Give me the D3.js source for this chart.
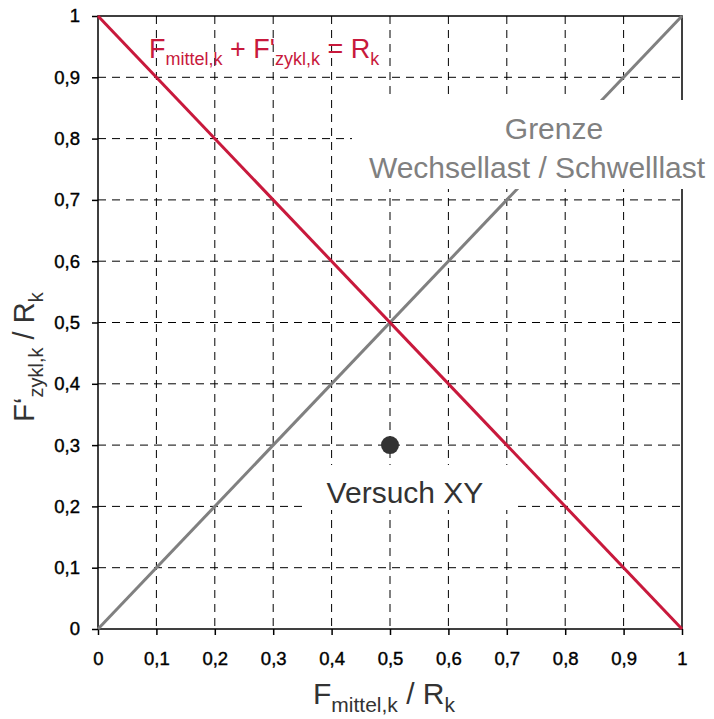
<!DOCTYPE html>
<html>
<head>
<meta charset="utf-8">
<script src="https://cdn.jsdelivr.net/npm/d3@7"></script>
<style>
  html, body { margin: 0; padding: 0; background: #fff; }
  svg { display: block; font-family: "Liberation Sans", Arial, sans-serif; }
</style>
</head>
<body>
<svg id="chart" width="714" height="719"></svg>
<script>
// Ticks for both axes (0 .. 1 in steps of 0.1)
const tickValues = [0, 0.1, 0.2, 0.3, 0.4, 0.5, 0.6, 0.7, 0.8, 0.9, 1];
const tickLabels = ["0", "0,1", "0,2", "0,3", "0,4", "0,5", "0,6", "0,7", "0,8", "0,9", "1"];

// Limit line F_mittel + F'_zykl = R_k
const sumLine = [[0, 1], [1, 0]];
// Boundary between alternating and pulsating load
const limitLine = [[0, 0], [1, 1]];
// Test point
const testPoints = [{ name: "Versuch XY", x: 0.5, y: 0.3 }];

const margin = { top: 16, right: 32, bottom: 90, left: 98 };
const W = 714, H = 719;
const iw = W - margin.left - margin.right;
const ih = H - margin.top - margin.bottom;

const svg = d3.select("#chart");
const g = svg.append("g").attr("transform", `translate(${margin.left},${margin.top})`);

const x = d3.scaleLinear().domain([0, 1]).range([0, iw]);
const y = d3.scaleLinear().domain([0, 1]).range([ih, 0]);

// Dashed grid
g.append("g").selectAll("line").data(tickValues.slice(1, -1)).join("line")
  .attr("x1", d => x(d)).attr("x2", d => x(d)).attr("y1", 0).attr("y2", ih)
  .attr("stroke", "#000").attr("stroke-width", 1).attr("stroke-dasharray", "8,6");
g.append("g").selectAll("line").data(tickValues.slice(1, -1)).join("line")
  .attr("y1", d => y(d)).attr("y2", d => y(d)).attr("x1", 0).attr("x2", iw)
  .attr("stroke", "#000").attr("stroke-width", 1).attr("stroke-dasharray", "8,6");

// Frame
g.append("rect").attr("x", 0).attr("y", 0).attr("width", iw).attr("height", ih)
  .attr("fill", "none").attr("stroke", "#000").attr("stroke-width", 1.5);

// Axes
const fmt = d => tickLabels[tickValues.indexOf(d)];
const xAxis = g.append("g").attr("transform", `translate(0,${ih})`)
  .call(d3.axisBottom(x).tickValues(tickValues).tickFormat(fmt).tickSize(6).tickPadding(17));
const yAxis = g.append("g")
  .call(d3.axisLeft(y).tickValues(tickValues).tickFormat(fmt).tickSize(6).tickPadding(12));
[xAxis, yAxis].forEach(a => {
  a.select(".domain").remove();
  a.selectAll(".tick line").attr("stroke", "#000").attr("stroke-width", 1.5);
  a.selectAll(".tick text").attr("fill", "#000").attr("stroke", "#000").attr("stroke-width", 0.4)
    .style("font-size", "18.5px");
});

const line = d3.line().x(d => x(d[0])).y(d => y(d[1]));

// Grey boundary line
g.append("path").datum(limitLine).attr("d", line)
  .attr("fill", "none").attr("stroke", "#808080").attr("stroke-width", 3);

// Red limit line
g.append("path").datum(sumLine).attr("d", line)
  .attr("fill", "none").attr("stroke", "#c8193c").attr("stroke-width", 3);

// Test point
g.selectAll("circle").data(testPoints).join("circle")
  .attr("cx", d => x(d.x)).attr("cy", d => y(d.y)).attr("r", 9).attr("fill", "#333");

// Label boxes with white background
svg.append("rect").attr("x", 352).attr("y", 100).attr("width", 362).attr("height", 89).attr("fill", "#fff");
svg.append("rect").attr("x", 305).attr("y", 465).attr("width", 213).attr("height", 45).attr("fill", "#fff");

svg.append("text").attr("x", 554).attr("y", 139).attr("text-anchor", "middle")
  .attr("fill", "#808080").style("font-size", "30px").text("Grenze");
svg.append("text").attr("x", 537).attr("y", 178).attr("text-anchor", "middle")
  .attr("fill", "#808080").style("font-size", "30px").text("Wechsellast / Schwelllast");

svg.selectAll("text.pt").data(testPoints).join("text").attr("class", "pt")
  .attr("x", d => margin.left + x(d.x) + 15).attr("y", d => margin.top + y(d.y) + 58)
  .attr("text-anchor", "middle")
  .attr("fill", "#333").style("font-size", "30px").text(d => d.name);

// Equation label
const eq = svg.append("text").attr("x", 149).attr("y", 58).attr("fill", "#c8193c").style("font-size", "27px");
eq.append("tspan").text("F");
eq.append("tspan").attr("dy", 7).style("font-size", "18px").text("mittel,k");
eq.append("tspan").attr("dy", -7).text(" + F'");
eq.append("tspan").attr("dy", 7).style("font-size", "18px").text("zykl,k");
eq.append("tspan").attr("dy", -7).text(" = R");
eq.append("tspan").attr("dy", 7).style("font-size", "18px").text("k");

// Axis titles
const xt = svg.append("text").attr("x", 384).attr("y", 704).attr("text-anchor", "middle")
  .attr("fill", "#333").style("font-size", "30px");
xt.append("tspan").text("F");
xt.append("tspan").attr("dy", 8).style("font-size", "21px").text("mittel,k");
xt.append("tspan").attr("dy", -8).text(" / R");
xt.append("tspan").attr("dy", 8).style("font-size", "21px").text("k");

const yt = svg.append("text").attr("transform", "translate(34,357) rotate(-90)").attr("text-anchor", "middle")
  .attr("fill", "#333").style("font-size", "29px");
yt.append("tspan").text("F\u2018");
yt.append("tspan").attr("dy", 9).style("font-size", "20px").text("zykl,k");
yt.append("tspan").attr("dy", -9).text(" / R");
yt.append("tspan").attr("dy", 9).style("font-size", "20px").text("k");
</script>
</body>
</html>
